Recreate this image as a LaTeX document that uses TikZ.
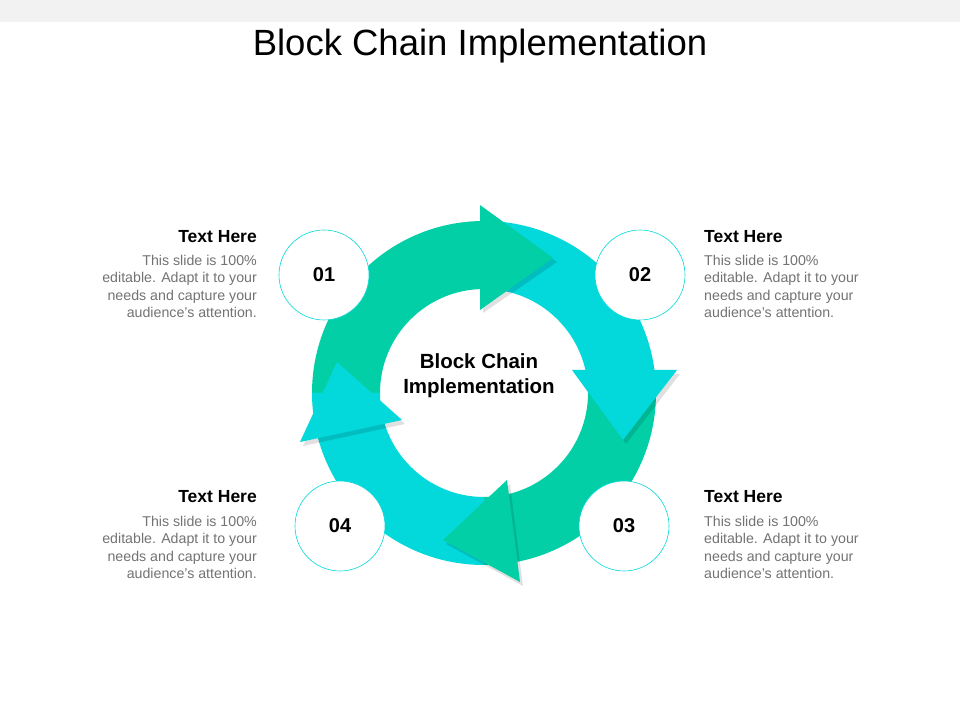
\documentclass[tikz,border=0pt]{standalone}
\usepackage{fontspec}
\setmainfont{Liberation Sans}
\usetikzlibrary{calc}
\begin{document}
\begin{tikzpicture}[x=1pt,y=1pt,
  num/.style={circle,draw=cyanc,line width=0.6pt,fill=white,minimum size=90pt,font=\fontsize{20}{20}\selectfont\bfseries},
  hd/.style={font=\fontsize{17.5}{17.5}\selectfont\bfseries,inner sep=0},
  bodyR/.style={font=\fontsize{14.2}{17.5}\selectfont,text=gray!90!black,align=right,inner sep=0},
  bodyL/.style={font=\fontsize{14.2}{17.5}\selectfont,text=gray!90!black,align=left,inner sep=0}]
\definecolor{greenc}{HTML}{03CFA7}
\definecolor{cyanc}{HTML}{03D8DA}
\useasboundingbox (0,0) rectangle (960,720);
\fill[white] (0,0) rectangle (960,720);
\fill[black!5] (0,698) rectangle (960,720);
\node[font=\fontsize{36.5}{36.5}\selectfont] (title) at (480,674) {Block Chain Implementation};
\coordinate (C) at (484,327);
% bands
\fill[greenc] ($(C)+(180:172)$) arc (180:90:172) -- ($(C)+(90:104)$) arc (90:180:104) -- cycle;
\fill[cyanc] ($(C)+(90:172)$) arc (90:0:172) -- ($(C)+(0:104)$) arc (0:90:104) -- cycle;
\fill[greenc] ($(C)+(0:172)$) arc (0:-90:172) -- ($(C)+(-90:104)$) arc (-90:0:104) -- cycle;
\fill[cyanc] ($(C)+(-90:172)$) arc (-90:-180:172) -- ($(C)+(180:104)$) arc (180:270:104) -- cycle;
% heads with soft shadow
\fill[black,opacity=0.12] (483,512)--(483,407)--(557,458)--cycle;
\fill[greenc] (480,515)--(480,410)--(553,462)--cycle;
\fill[black,opacity=0.12] (575,346)--(680,346)--(626,276)--cycle;
\fill[cyanc] (572,350)--(677,350)--(623,280)--cycle;
\fill[black,opacity=0.12] (510,236)--(523,134)--(446,176)--cycle;
\fill[greenc] (507,240)--(520,138)--(443,180)--cycle;
\fill[black,opacity=0.12] (340,354)--(303,274)--(405,296)--cycle;
\fill[cyanc] (337,358)--(300,278)--(402,300)--cycle;
\node[font=\fontsize{20.5}{25}\selectfont\bfseries,align=center] (center) at (479,344) {Block Chain\\Implementation};
% numbers
\node[num] (n1) at (324,445) {01};
\node[num] (n2) at (640,445) {02};
\node[num] (n3) at (624,194) {03};
\node[num] (n4) at (340,194) {04};
% texts
\node[hd,anchor=east] (h1) at (257,483) {Text Here};
\node[bodyR,anchor=north east] (b1) at (257,465) {This slide is 100\%\\editable. Adapt it to your\\needs and capture your\\audience's attention.};
\node[hd,anchor=west] (h2) at (704,483) {Text Here};
\node[bodyL,anchor=north west] (b2) at (704,465) {This slide is 100\%\\editable. Adapt it to your\\needs and capture your\\audience's attention.};
\node[hd,anchor=east] (h4) at (257,223) {Text Here};
\node[bodyR,anchor=north east] (b4) at (257,204) {This slide is 100\%\\editable. Adapt it to your\\needs and capture your\\audience's attention.};
\node[hd,anchor=west] (h3) at (704,223) {Text Here};
\node[bodyL,anchor=north west] (b3) at (704,204) {This slide is 100\%\\editable. Adapt it to your\\needs and capture your\\audience's attention.};
\end{tikzpicture}
\end{document}
